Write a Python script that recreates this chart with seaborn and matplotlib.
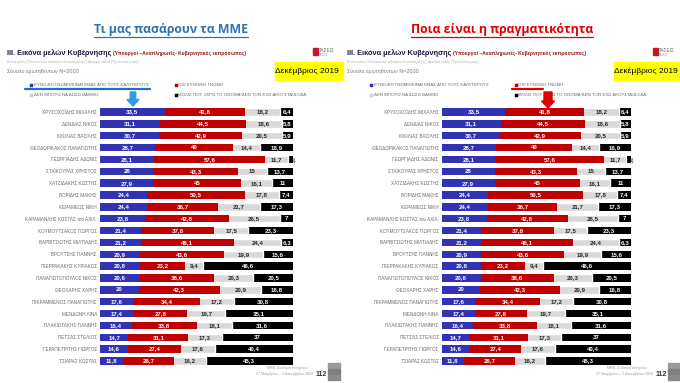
import matplotlib
matplotlib.use("Agg")
import matplotlib.pyplot as plt
import seaborn as sns
import pandas as pd
from matplotlib.patches import Rectangle, FancyArrow
from matplotlib.lines import Line2D

# ---------------- data ----------------
names = [
    "ΧΡΥΣΟΧΟΪΔΗΣ ΜΙΧΑΛΗΣ", "ΔΕΝΔΙΑΣ ΝΙΚΟΣ", "ΚΙΚΙΛΙΑΣ ΒΑΣΙΛΗΣ",
    "ΘΕΟΔΩΡΙΚΑΚΟΣ ΠΑΝΑΓΙΩΤΗΣ", "ΓΕΩΡΓΙΑΔΗΣ ΑΔΩΝΙΣ", "ΣΤΑΪΚΟΥΡΑΣ ΧΡΗΣΤΟΣ",
    "ΧΑΤΖΙΔΑΚΗΣ ΚΩΣΤΗΣ", "ΒΟΡΙΔΗΣ ΜΑΚΗΣ", "ΚΕΡΑΜΕΩΣ ΝΙΚΗ",
    "ΚΑΡΑΜΑΝΛΗΣ ΚΩΣΤΑΣ του ΑΧΙΛ.", "ΚΟΥΜΟΥΤΣΑΚΟΣ ΓΙΩΡΓΟΣ", "ΒΑΡΒΙΤΣΙΩΤΗΣ ΜΙΛΤΙΑΔΗΣ",
    "ΒΡΟΥΤΣΗΣ ΓΙΑΝΝΗΣ", "ΠΙΕΡΡΑΚΑΚΗΣ ΚΥΡΙΑΚΟΣ", "ΠΑΝΑΓΙΩΤΟΠΟΥΛΟΣ ΝΙΚΟΣ",
    "ΘΕΟΧΑΡΗΣ ΧΑΡΗΣ", "ΠΙΚΡΑΜΜΕΝΟΣ ΠΑΝΑΓΙΩΤΗΣ", "ΜΕΝΔΩΝΗ ΛΙΝΑ",
    "ΠΛΑΚΙΩΤΑΚΗΣ ΓΙΑΝΝΗΣ", "ΠΕΤΣΑΣ ΣΤΕΛΙΟΣ", "ΓΕΡΑΠΕΤΡΙΤΗΣ ΓΙΩΡΓΟΣ",
    "ΤΣΙΑΡΑΣ ΚΩΣΤΑΣ",
]
favorable = [33.5, 31.1, 30.7, 28.7, 28.1, 28, 27.9, 24.4, 24.4, 23.8, 21.4,
             21.2, 20.9, 20.8, 20.6, 20, 17.6, 17.4, 16.4, 14.7, 14.6, 11.8]
unfavorable = [41.8, 44.5, 42.9, 40, 57.6, 43.3, 45, 50.5, 36.7, 42.8, 37.8,
               48.1, 43.6, 23.2, 38.6, 42.3, 34.4, 27.8, 33.8, 31.1, 27.4, 26.7]
cannot_rate = [18.2, 18.6, 20.5, 14.4, 11.7, 15, 16.1, 17.8, 21.7, 26.5, 17.5,
               24.4, 19.9, 9.4, 20.3, 20.9, 17.2, 19.7, 18.1, 17.3, 17.6, 16.2]
unknown = [6.4, 5.8, 5.9, 16.9, 2.6, 13.7, 11, 7.4, 17.3, 7, 23.3,
           6.3, 15.6, 46.6, 20.5, 16.8, 30.8, 35.1, 31.6, 37, 40.4, 45.3]

series_labels = [
    "ΕΥΝΟΪΚΗ ΓΝΩΜΗ/ΕΙΝΑΙ ΕΝΑΣ ΑΠΟ ΤΟΥΣ ΚΑΛΥΤΕΡΟΥΣ",
    "ΟΧΙ ΕΥΝΟΪΚΗ ΓΝΩΜΗ",
    "ΔΕΝ ΜΠΟΡΩ ΝΑ ΔΩΣΩ ΒΑΘΜΟ",
    "ΜΟΛΙΣ ΠΟΥ ΞΕΡΩ ΤΟ ΟΝΟΜΑ/ΔΕΝ ΤΟΝ ΕΧΩ ΑΚΟΥΣΤΑ/ΔΞ/ΔΑ",
]
panel_titles = ["Τι μας πασάρουν τα ΜΜΕ", "Ποια είναι η πραγματικότητα"]
slide_title = "III. Εικόνα μελών Κυβέρνησης "
slide_title2 = "(Υπουργοί –Αναπληρωτές- Κυβερνητικός εκπρόσωπος)"
note_text = ("Θετικές κρίσεις (\"Είναι από τους καλύτερους & ευνοϊκή γνώμη\")  "
             "Αρνητικές κρίσεις (\"Όχι ευνοϊκή γνώμη\")")
base_text = "Σύνολο ερωτηθέντων Ν=2000"
date_text = "Δεκέμβριος 2019"
footer1 = "MRB, Συλλογή στοιχείων"
footer2 = "27 Νοεμβρίου – 5 Δεκεμβρίου 2019"
page_no = "112"

# ---------------- style ----------------
colors = ["#3232b4", "#c00000", "#d9d9d9", "#000000"]
label_colors = ["white", "white", "#262626", "white"]

sns.set_theme(style="white")
NARROW = ["Liberation Sans Narrow", "Liberation Sans", "DejaVu Sans"]
plt.rcParams["font.family"] = NARROW

W, H = 680, 383
fig = plt.figure(figsize=(6.8, 3.83), dpi=100)
fig.patch.set_facecolor("white")


def P(x, y):
    return (x / W, 1 - y / H)


def inch(x, y):
    return (x / 100.0, (H - y) / 100.0)


df = pd.DataFrame({
    "name": names,
    "fav": favorable,
    "unf": unfavorable,
    "cnr": cannot_rate,
    "unk": unknown,
})
df["c1"] = df["fav"]
df["c2"] = df["c1"] + df["unf"]
df["c3"] = df["c2"] + df["cnr"]
df["c4"] = df["c3"] + df["unk"]


def fmt(v):
    if abs(v - round(v)) < 1e-9:
        return str(int(round(v)))
    return f"{v:.1f}".replace(".", ",")


def draw_panel(ox, bar_left, bar_right, title_color, title_cx, title):
    top, bot = 106.1, 366.9
    ax = fig.add_axes([bar_left / W, 1 - bot / H, (bar_right - bar_left) / W,
                       (bot - top) / H])
    layers = [("c4", colors[3], None), ("c3", colors[2], "white"),
              ("c2", colors[1], None), ("c1", colors[0], None)]
    for col, c, ec in layers:
        sns.barplot(data=df, x=col, y="name", order=names, color=c,
                    orient="h", width=0.62, saturation=1, ax=ax,
                    edgecolor=ec if ec else c, linewidth=1.0 if ec else 0)
    ax.set_xlim(0, 100)
    ax.set_ylim(len(names) - 0.5, -0.5)
    ax.set_xlabel("")
    ax.set_ylabel("")
    ax.set_xticks([])
    ax.tick_params(axis="y", length=0, pad=2.2, labelsize=3.3,
                   labelcolor="#6a6a6a")
    for s in ax.spines.values():
        s.set_visible(False)
    ax.set_facecolor("none")

    # value labels
    for i in range(len(names)):
        vals = [favorable[i], unfavorable[i], cannot_rate[i], unknown[i]]
        start = 0
        for j, v in enumerate(vals):
            cx = start + v / 2
            if v < 4:
                ax.text(start + v + 0.8, i, fmt(v), ha="center", va="center",
                        rotation=90, fontsize=3.0, color="#262626",
                        fontweight="bold")
            else:
                ax.text(cx, i, fmt(v), ha="center", va="center", fontsize=4.4,
                        color=label_colors[j], fontweight="bold")
            start += v

    # big title with underline
    t = fig.text(*P(title_cx, 30), title,
                 ha="center", va="center", fontsize=8.8, color=title_color,
                 family=["Open Sans", "DejaVu Sans"], fontweight="bold")
    fig.canvas.draw()
    bb = t.get_window_extent()
    fig.add_artist(Line2D([bb.x0 / W, bb.x1 / W], [1 - 37 / H, 1 - 37 / H],
                          transform=fig.transFigure, color=title_color, lw=0.9))

    # slide heading
    h1 = fig.text(*P(ox + 7, 53), slide_title, ha="left", va="center",
                  fontsize=5.3, color="#1a1a3a", fontweight="bold")
    fig.canvas.draw()
    b1 = h1.get_window_extent()
    fig.text(b1.x1 / W, 1 - 53 / H, slide_title2, ha="left", va="center",
             fontsize=3.6, color="#8e1b1b", fontweight="bold")
    fig.text(*P(ox + 7, 62), note_text, ha="left", va="center", fontsize=2.1,
             color="#a8a8a8", style="italic")
    fig.text(*P(ox + 7, 71), base_text, ha="left", va="center", fontsize=3.9,
             color="#7a7a7a")

    # logo ΤΑΣΕΙΣ
    fig.add_artist(Rectangle(inch(ox + 313, 55), 0.045, 0.07,
                             transform=fig.dpi_scale_trans, color="#c0182b"))
    fig.text(*P(ox + 319, 50), "ΤΑΣΕΙΣ", ha="left", va="center", fontsize=3.3,
             color="#6a6a6a")
    fig.text(*P(ox + 319, 55.5), "ΤΑΣΕΙΣ", ha="left", va="center", fontsize=2.0,
             color="#9a9a9a")

    # legend
    leg_pos = [(ox + 30, 85), (ox + 175, 85), (ox + 30, 95), (ox + 175, 95)]
    for (lx, ly), lab, c in zip(leg_pos, series_labels, colors):
        ec = "#bbbbbb" if c == colors[2] else c
        fig.add_artist(Rectangle(inch(lx, ly + 1.5), 0.026, 0.03,
                                 transform=fig.dpi_scale_trans, facecolor=c,
                                 edgecolor=ec, lw=0.3))
        fig.text(*P(lx + 3.5, ly), lab, ha="left", va="center", fontsize=3.2,
                 color="#6a6a6a")

    # footer
    fig.text(*P(ox + 307, 368), footer1, ha="right", va="center",
             fontsize=2.6, color="#9a9a9a")
    fig.text(*P(ox + 313, 374), footer2, ha="right", va="center",
             fontsize=2.6, color="#9a9a9a")
    fig.text(*P(ox + 321, 374), page_no, ha="center", va="center",
             fontsize=5, color="#333333", fontweight="bold")
    for k, shade in enumerate(["#9a9a9a", "#7f7f7f", "#8a8a8a"]):
        fig.add_artist(Rectangle(inch(ox + 328, 368 + k * 6), 0.12, 0.055,
                                 transform=fig.dpi_scale_trans, color=shade))
    return ax


ax_left = draw_panel(0, 100, 293, "#2e74b5", 171, panel_titles[0])
ax_right = draw_panel(340, 441.7, 631, "#e00000", 502, panel_titles[1])

# date boxes (yellow)
for x0, x1 in [(275, 343), (614, 679)]:
    fig.add_artist(Rectangle(inch(x0, 80), (x1 - x0) / 100, 18 / 100,
                             transform=fig.dpi_scale_trans, color="#ffff00",
                             zorder=3))
fig.text(*P(307, 71), date_text, ha="center", va="center", fontsize=6.0,
         color="black", zorder=4, family=["Liberation Sans", "DejaVu Sans"])
fig.text(*P(646, 71), date_text, ha="center", va="center", fontsize=6.0,
         color="black", zorder=4, family=["Liberation Sans", "DejaVu Sans"])

# highlight underlines under legend entries
fig.add_artist(Line2D([25 / W, 150 / W], [1 - 89 / H, 1 - 89 / H],
                      transform=fig.transFigure, color="#1f6fd0", lw=1.6))
fig.add_artist(Line2D([512 / W, 543 / W], [1 - 89 / H, 1 - 89 / H],
                      transform=fig.transFigure, color="#e00000", lw=1.6))

# arrows pointing to first bar
fig.add_artist(FancyArrow(*inch(133, 92), 0, -0.14, width=0.055,
                          head_width=0.12, head_length=0.065,
                          length_includes_head=True,
                          transform=fig.dpi_scale_trans, color="#2f9be0",
                          zorder=5))
fig.add_artist(FancyArrow(*inch(548, 92), 0, -0.16, width=0.08,
                          head_width=0.13, head_length=0.07,
                          length_includes_head=True,
                          transform=fig.dpi_scale_trans, color="#e00000",
                          zorder=5))

fig.savefig("out.png", dpi=100, facecolor="white")
